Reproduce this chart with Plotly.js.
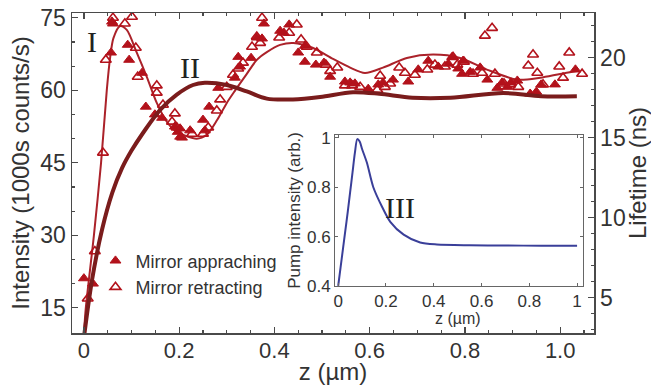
<!DOCTYPE html>
<html>
<head>
<meta charset="utf-8">
<script src="https://cdn.plot.ly/plotly-3.0.1.min.js"></script>
<style>html,body{margin:0;padding:0;background:#fff;}#chart{width:651px;height:385px;}</style>
</head>
<body>
<div id="chart"></div>
<script>
// Mirror approaching (filled triangles): z (µm), intensity (1000s counts/s)
const zApproach = [0.000,0.019,0.059,0.061,0.057,0.092,0.095,0.122,0.130,0.149,0.164,0.191,0.197,0.202,0.206,0.202,0.223,0.250,0.254,0.263,0.282,0.317,0.328,0.324,0.351,0.363,0.374,0.378,0.412,0.420,0.431,0.450,0.464,0.464,0.487,0.504,0.517,0.548,0.559,0.569,0.597,0.618,0.628,0.649,0.681,0.702,0.723,0.744,0.765,0.773,0.786,0.796,0.794,0.811,0.832,0.847,0.868,0.878,0.889,0.897,0.910,0.937,0.950,0.960,0.989,1.032];
const intApproach = [21.1,20.0,74.2,73.8,67.8,69.4,66.3,63.6,56.6,55.0,54.3,52.5,51.4,50.4,50.2,52.1,51.7,53.9,51.7,56.6,60.5,62.6,64.9,66.9,66.7,70.9,70.7,73.8,72.3,71.9,73.6,67.8,69.2,65.9,65.3,65.7,62.8,61.8,61.6,61.4,60.3,61.2,61.6,62.2,61.8,64.3,66.1,64.9,65.5,66.9,64.5,66.1,63.4,63.8,64.7,62.2,60.5,61.6,60.7,61.6,62.0,59.3,59.7,61.2,61.2,64.3];

// Mirror retracting (open triangles)
const zRetract = [0.008,0.023,0.040,0.046,0.061,0.101,0.086,0.109,0.113,0.153,0.153,0.166,0.191,0.185,0.195,0.227,0.250,0.261,0.279,0.286,0.300,0.313,0.324,0.334,0.353,0.370,0.374,0.363,0.410,0.431,0.447,0.456,0.468,0.489,0.508,0.517,0.532,0.548,0.563,0.580,0.616,0.622,0.632,0.643,0.662,0.674,0.695,0.721,0.737,0.758,0.775,0.784,0.798,0.817,0.836,0.842,0.857,0.863,0.882,0.895,0.912,0.933,0.943,0.952,0.964,0.998,1.006,1.019,1.046];
const intRetract = [16.9,26.7,47.1,66.3,75.0,75.2,73.8,68.8,62.8,61.0,59.5,57.0,55.2,53.5,52.3,51.0,51.0,52.3,55.8,58.1,60.7,63.2,64.5,65.7,69.0,69.8,75.0,71.1,70.9,71.9,73.6,70.5,69.0,67.8,65.3,64.0,64.7,61.0,61.0,60.7,60.1,63.0,60.7,61.4,64.7,63.6,63.2,64.3,65.3,64.9,66.9,65.3,65.9,63.4,63.6,71.3,72.9,63.4,61.4,61.2,60.7,65.1,67.4,63.6,61.2,64.9,62.6,67.8,63.4];

// Curve I: intensity fit
const zFitI = [0.000,0.004,0.021,0.036,0.048,0.055,0.062,0.076,0.090,0.111,0.132,0.153,0.174,0.195,0.237,0.258,0.280,0.300,0.317,0.342,0.363,0.384,0.412,0.440,0.480,0.523,0.559,0.590,0.628,0.678,0.733,0.790,0.846,0.910,0.958,1.000,1.035];
const intFitI = [9.5,15.0,30.0,45.0,60.0,66.7,70.8,73.3,72.5,67.8,62.8,57.4,53.5,51.4,50.0,50.8,53.9,57.4,59.9,63.4,66.3,67.9,69.4,69.8,68.8,66.5,64.7,63.6,64.7,66.7,67.4,66.7,64.3,62.2,62.6,63.4,64.0];

// Curve II: lifetime (ns)
const zFitII = [0.000,0.017,0.038,0.060,0.080,0.100,0.124,0.160,0.195,0.229,0.254,0.300,0.342,0.384,0.439,0.496,0.565,0.620,0.690,0.770,0.880,0.960,1.035];
const lifetimeFitII = [2.5,6.1,9.25,11.6,13.1,14.2,15.3,16.75,17.7,18.3,18.44,18.3,17.9,17.45,17.4,17.55,17.85,17.75,17.5,17.5,17.8,17.6,17.6];

// Curve III: pump intensity (inset)
const zPump = [0,0.01,0.02,0.03,0.04,0.05,0.06,0.07,0.08,0.09,0.10,0.12,0.147,0.184,0.218,0.274,0.343,0.413,0.55,0.70,0.85,1.0];
const pumpIntensity = [0.40,0.475,0.55,0.625,0.70,0.78,0.86,0.94,0.995,0.985,0.955,0.90,0.80,0.72,0.66,0.608,0.576,0.568,0.565,0.564,0.563,0.563];

// Tick labels
const xTickVals = [0,0.2,0.4,0.6,0.8,1.0];
const xTickText = ["0","0.2","0.4","0.6","0.8","1.0"];
const leftTickVals = [15,30,45,60,75];
const rightTickVals = [5,10,15,20];
const insetXTickVals = [0,0.2,0.4,0.6,0.8,1];
const insetXTickText = ["0","0.2","0.4","0.6","0.8","1"];
const insetYTickVals = [0.4,0.6,0.8,1];
const insetYTickText = ["0.4","0.6","0.8","1"];

const RED = '#b3121b';
const axisCol = '#4a4a4a';
const textCol = '#333333';
const FONT = 'Liberation Sans, Arial, sans-serif';
const SERIF = 'Liberation Serif, Times New Roman, serif';

const traces = [
  {x: zFitI, y: intFitI, type:'scatter', mode:'lines', line:{color:'#ab222a', width:2, shape:'spline', smoothing:0.8}, showlegend:false, xaxis:'x', yaxis:'y', hoverinfo:'skip'},
  {x: zFitII, y: lifetimeFitII, type:'scatter', mode:'lines', line:{color:'#7a1c1c', width:4, shape:'spline', smoothing:0.9}, showlegend:false, xaxis:'x', yaxis:'y3', hoverinfo:'skip'},
  {x: zApproach, y: intApproach, type:'scatter', mode:'markers', name:'Mirror appraching', marker:{symbol:'triangle-up', size:9.5, color:RED, line:{color:RED, width:1}}, xaxis:'x', yaxis:'y'},
  {x: zRetract, y: intRetract, type:'scatter', mode:'markers', name:'Mirror retracting', marker:{symbol:'triangle-up-open', size:9.5, color:RED, line:{color:RED, width:1.6}}, xaxis:'x', yaxis:'y'},
  {x: zPump, y: pumpIntensity, type:'scatter', mode:'lines', line:{color:'#3a3f99', width:2, shape:'spline', smoothing:0.8}, showlegend:false, xaxis:'x2', yaxis:'y2', hoverinfo:'skip'}
];

const layout = {
  width:651, height:385,
  margin:{l:72, r:57, t:13, b:52, pad:0},
  paper_bgcolor:'#fff', plot_bgcolor:'#fff',
  font:{family:FONT, color:textCol},
  showlegend:true,
  legend:{x:0.045, y:0.283, xanchor:'left', yanchor:'top', bgcolor:'rgba(0,0,0,0)', font:{size:18, color:textCol, family:FONT}, itemwidth:30, tracegroupgap:0},
  xaxis:{domain:[0,1], range:[-0.025,1.071], anchor:'y', tickvals:xTickVals, ticktext:xTickText, ticks:'inside', ticklen:6, tickwidth:1.2, tickcolor:axisCol,
    minor:{dtick:0.05, ticks:'inside', ticklen:3, tickcolor:axisCol}, showline:true, linecolor:axisCol, linewidth:1.5, mirror:'ticks', showgrid:false, zeroline:false,
    ticklabelstandoff:-3,
    tickfont:{size:22, color:textCol}, title:{text:'z (µm)', font:{size:24, color:textCol}, standoff:1}},
  yaxis:{domain:[0,1], range:[9.8,76], anchor:'x', tickvals:leftTickVals, ticks:'inside', ticklen:6, tickwidth:1.2, tickcolor:axisCol,
    minor:{dtick:5, ticks:'inside', ticklen:3, tickcolor:axisCol}, showline:true, linecolor:axisCol, linewidth:1.5, showgrid:false, zeroline:false,
    tickfont:{size:23, color:textCol}, title:{text:'Intensity (1000s counts/s)', font:{size:24, color:textCol}, standoff:4}},
  yaxis3:{overlaying:'y', side:'right', anchor:'x', range:[2.8,22.8], tickvals:rightTickVals, ticks:'inside', ticklen:6, tickwidth:1.2, tickcolor:axisCol,
    minor:{dtick:1, ticks:'inside', ticklen:3, tickcolor:axisCol}, showline:true, linecolor:axisCol, linewidth:1.5, showgrid:false, zeroline:false,
    tickfont:{size:23, color:textCol}, title:{text:'Lifetime (ns)', font:{size:24, color:textCol}, standoff:2}},
  xaxis2:{domain:[0.504,0.979], anchor:'y2', range:[-0.013,1.025], tickvals:insetXTickVals, ticktext:insetXTickText, ticks:'inside', ticklen:3, tickcolor:'#666',
    showline:true, linecolor:'#666', linewidth:1, mirror:'ticks', showgrid:false, zeroline:false,
    tickfont:{size:17, color:textCol}},
  yaxis2:{domain:[0.147,0.619], anchor:'x2', range:[0.4,1.012], tickvals:insetYTickVals, ticktext:insetYTickText, ticks:'inside', ticklen:3, tickcolor:'#666',
    showline:true, linecolor:'#666', linewidth:1, mirror:'ticks', showgrid:false, zeroline:false,
    tickfont:{size:17, color:textCol}, title:{text:'Pump intensity (arb.)', font:{size:17, color:textCol}, standoff:2}},
  annotations:[
    {x:0.017, y:70.2, xref:'x', yref:'y', text:'I', showarrow:false, font:{family:SERIF, size:30, color:'#222'}},
    {x:0.223, y:64.8, xref:'x', yref:'y', text:'II', showarrow:false, font:{family:SERIF, size:30, color:'#222'}},
    {x:0.26, y:0.717, xref:'x2', yref:'y2', text:'III', showarrow:false, font:{family:SERIF, size:30, color:'#222'}},
    {x:0.5, y:0.045, xref:'x2', yref:'paper', text:'z (µm)', showarrow:false, yanchor:'middle', font:{family:FONT, size:16, color:textCol}}
  ]
};

Plotly.newPlot('chart', traces, layout, {displayModeBar:false, staticPlot:true});
</script>
</body>
</html>
